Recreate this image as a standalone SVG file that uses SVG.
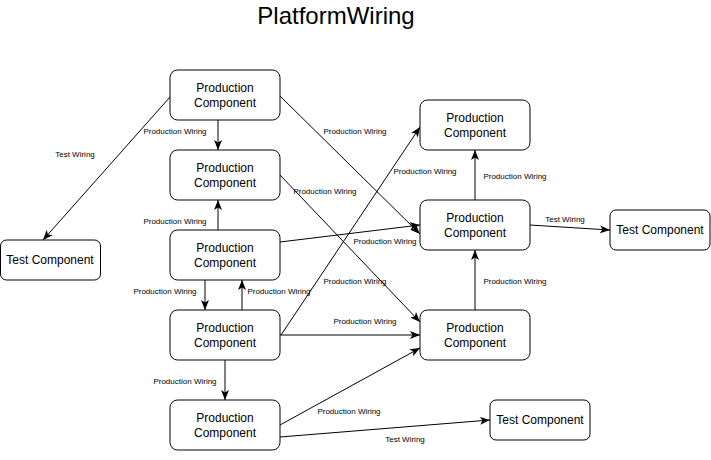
<svg xmlns="http://www.w3.org/2000/svg" width="711" height="460" viewBox="0 0 711 460">
<style>
.n rect{fill:#fff;stroke:#000;stroke-width:1}
.n text{font-family:"Liberation Sans",Arial,sans-serif;font-size:12px;fill:#000;text-anchor:middle}
.e line{stroke:#000;stroke-width:1;fill:none;marker-end:url(#a)}
.l text{font-family:"Liberation Sans",Arial,sans-serif;font-size:8px;fill:#000;text-anchor:middle;dominant-baseline:central}
.t{font-family:"Liberation Sans",Arial,sans-serif;font-size:24px;fill:#000;text-anchor:middle}
</style>
<defs>
<marker id="a" markerUnits="userSpaceOnUse" markerWidth="12" markerHeight="10" refX="10" refY="4" orient="auto" viewBox="0 0 12 8">
<path d="M0,0 L10,4 L0,8 L2.5,4 z" fill="#000"/>
</marker>
</defs>
<rect width="711" height="460" fill="#fff"/>
<text class="t" x="336" y="24">PlatformWiring</text>
<g class="e" id="connectors">
<line x1="170" y1="97" x2="43" y2="240"/>
<line x1="218" y1="120" x2="218" y2="150"/>
<line x1="218" y1="230" x2="218" y2="200"/>
<line x1="205" y1="280" x2="205" y2="310"/>
<line x1="242" y1="310" x2="242" y2="280"/>
<line x1="225" y1="360" x2="225" y2="400"/>
<line x1="280" y1="96" x2="420" y2="234"/>
<line x1="280" y1="242" x2="420" y2="225"/>
<line x1="280" y1="175" x2="420" y2="322"/>
<line x1="281" y1="335" x2="420" y2="127"/>
<line x1="280" y1="335" x2="420" y2="335"/>
<line x1="280" y1="425" x2="420" y2="348"/>
<line x1="280" y1="437" x2="490" y2="420"/>
<line x1="475" y1="200" x2="475" y2="150"/>
<line x1="475" y1="310" x2="475" y2="250"/>
<line x1="530" y1="225" x2="610" y2="230"/>
</g>
<g class="l" id="labels">
<text x="75" y="154">Test Wiring</text>
<text x="175" y="131">Production Wiring</text>
<text x="355" y="131">Production Wiring</text>
<text x="425" y="171">Production Wiring</text>
<text x="515" y="176">Production Wiring</text>
<text x="325" y="191">Production Wiring</text>
<text x="175" y="221">Production Wiring</text>
<text x="565" y="219">Test Wiring</text>
<text x="385" y="241">Production Wiring</text>
<text x="355" y="281">Production Wiring</text>
<text x="515" y="281">Production Wiring</text>
<text x="165" y="291">Production Wiring</text>
<text x="279" y="291">Production Wiring</text>
<text x="365" y="321">Production Wiring</text>
<text x="185" y="381">Production Wiring</text>
<text x="349" y="411">Production Wiring</text>
<text x="405" y="439">Test Wiring</text>
</g>
<g class="n" id="p1"><rect x="170" y="70" width="110" height="50" rx="7.5"/><text x="225" y="92">Production</text><text x="225" y="107">Component</text></g>
<g class="n" id="p2"><rect x="170" y="150" width="110" height="50" rx="7.5"/><text x="225" y="172">Production</text><text x="225" y="187">Component</text></g>
<g class="n" id="p3"><rect x="170" y="230" width="110" height="50" rx="7.5"/><text x="225" y="252">Production</text><text x="225" y="267">Component</text></g>
<g class="n" id="p4"><rect x="170" y="310" width="110" height="50" rx="7.5"/><text x="225" y="332">Production</text><text x="225" y="347">Component</text></g>
<g class="n" id="p5"><rect x="170" y="400" width="110" height="50" rx="7.5"/><text x="225" y="422">Production</text><text x="225" y="437">Component</text></g>
<g class="n" id="r1"><rect x="420" y="100" width="110" height="50" rx="7.5"/><text x="475" y="122">Production</text><text x="475" y="137">Component</text></g>
<g class="n" id="r2"><rect x="420" y="200" width="110" height="50" rx="7.5"/><text x="475" y="222">Production</text><text x="475" y="237">Component</text></g>
<g class="n" id="r3"><rect x="420" y="310" width="110" height="50" rx="7.5"/><text x="475" y="332">Production</text><text x="475" y="347">Component</text></g>
<g class="n" id="tl"><rect x="0.5" y="240" width="100" height="40" rx="6"/><text x="50" y="264">Test Component</text></g>
<g class="n" id="tr"><rect x="610" y="210" width="100" height="40" rx="6"/><text x="660" y="234">Test Component</text></g>
<g class="n" id="tb"><rect x="490" y="400" width="100" height="40" rx="6"/><text x="540" y="424">Test Component</text></g>
</svg>
